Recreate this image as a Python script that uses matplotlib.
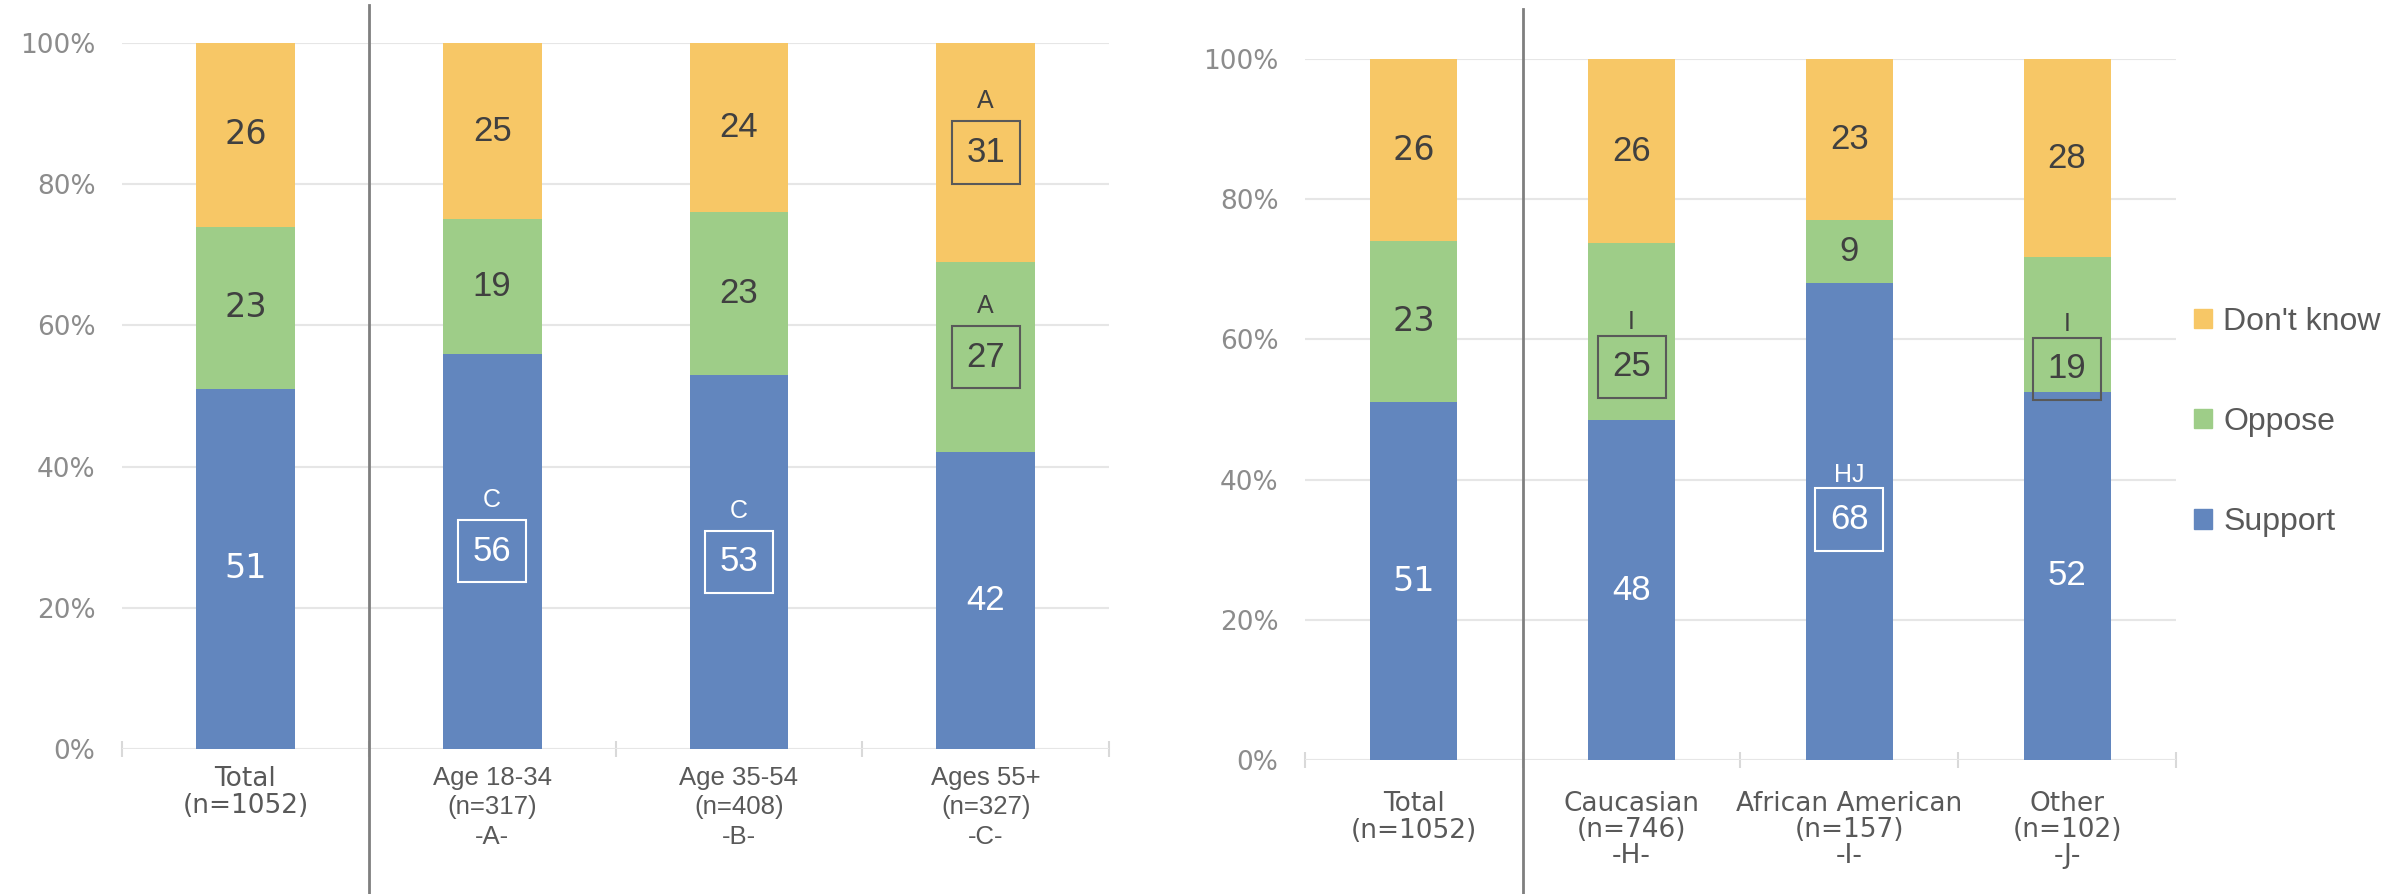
import numpy as np
import matplotlib.pyplot as plt
from matplotlib.patches import Patch

# left panel: by age
age_labels = ["Total\n(n=1052)", "Age 18-34\n(n=317)\n-A-", "Age 35-54\n(n=408)\n-B-", "Ages 55+\n(n=327)\n-C-"]
age_support = [51, 56, 53, 42]
age_oppose = [23, 19, 23, 27]
age_dont_know = [26, 25, 24, 31]
# significance letters, (category, series) -> letter
age_sig = {(1, 0): "C", (2, 0): "C", (3, 1): "A", (3, 2): "A"}

# right panel: by race
race_labels = ["Total\n(n=1052)", "Caucasian\n(n=746)\n-H-", "African American\n(n=157)\n-I-", "Other\n(n=102)\n-J-"]
race_support = [51, 48, 68, 52]
race_oppose = [23, 25, 9, 19]
race_dont_know = [26, 26, 23, 28]
race_sig = {(1, 1): "I", (2, 0): "HJ", (3, 1): "I"}

series_names = ["Support", "Oppose", "Don't know"]
colors = ["#6286BE", "#9ECD88", "#F7C766"]
text_colors = ["white", "#404040", "#404040"]

# label nudges (in % units) where the boxed labels sit off the segment centre
age_shift = {}
race_shift = {(1, 1): -5.0, (3, 1): -6.3, (2, 0): 0.3}

plt.rcParams["font.family"] = ["Liberation Sans", "DejaVu Sans"]

fig = plt.figure(figsize=(23.97, 8.94), dpi=100)
ax1 = fig.add_axes([0.0509, 0.1622, 0.4118, 0.7897])
ax2 = fig.add_axes([0.5444, 0.1499, 0.3634, 0.7841])


def draw_panel(ax, labels, support, oppose, dont_know, sig, shift, letter_gap,
               sep_top, sep_bot, xpad, wide_labels):
    x = np.arange(len(labels))
    vals = np.array([support, oppose, dont_know], dtype=float)
    pct = vals / vals.sum(axis=0) * 100
    bottom = np.zeros(len(labels))
    for i in range(3):
        ax.bar(x, pct[i], 0.4, bottom=bottom, color=colors[i], label=series_names[i], zorder=2)
        for j in range(len(labels)):
            yc = bottom[j] + pct[i][j] / 2 + shift.get((j, i), 0)
            fam = ["DejaVu Sans"] if j == 0 else ["Liberation Sans"]
            if (j, i) in sig:
                ec = "white" if i == 0 else "#595959"
                ax.text(x[j], yc, str(int(vals[i][j])), ha="center", va="center",
                        fontsize=25, color=text_colors[i], zorder=4,
                        bbox=dict(boxstyle="square,pad=0.42", fc="none", ec=ec, lw=1.5))
                ax.annotate(sig[(j, i)], (x[j], yc), xytext=(0, letter_gap),
                            textcoords="offset points", ha="center", va="center",
                            fontsize=18, color=text_colors[i], zorder=4)
            else:
                ax.text(x[j], yc, str(int(vals[i][j])), ha="center", va="center",
                        fontsize=24 if j == 0 else 25, color=text_colors[i], zorder=4,
                        family=fam)
        bottom += pct[i]

    ax.set_xlim(-0.5, len(labels) - 0.5)
    ax.set_ylim(0, 100)
    ax.set_yticks(np.arange(0, 101, 20))
    ax.set_yticklabels([f"{v}%" for v in range(0, 101, 20)])
    ax.yaxis.grid(True, color="#E6E6E6", lw=1.5, zorder=0)
    ax.set_axisbelow(True)
    for s in ax.spines.values():
        s.set_visible(False)
    ax.tick_params(axis="y", length=0, pad=19, labelsize=19, labelcolor="#8C8C8C")
    for t in ax.get_yticklabels():
        t.set_family("DejaVu Sans")
    ax.set_xticks(x)
    ax.set_xticklabels(labels)
    ax.tick_params(axis="x", which="major", length=0, pad=xpad, labelsize=18, labelcolor="#595959")
    for k, t in enumerate(ax.get_xticklabels()):
        if k == 0:
            t.set_family("DejaVu Sans")
            t.set_fontsize(19)
            t.set_linespacing(1.08)
        elif wide_labels:
            t.set_family("DejaVu Sans")
            t.set_fontsize(19)
            t.set_linespacing(1.02)
        else:
            t.set_fontsize(18.5)
            t.set_linespacing(1.3)
    ax.set_xticks(np.arange(-0.5, len(labels), 1), minor=True)
    ax.tick_params(axis="x", which="minor", length=12, direction="inout", color="#D9D9D9", width=1.5)

    # divider between the total and the sub-groups
    ax.plot([0.5, 0.5], [sep_top, sep_bot], transform=ax.get_xaxis_transform(),
            clip_on=False, color="#7F7F7F", lw=2, zorder=5)


draw_panel(ax1, age_labels, age_support, age_oppose, age_dont_know, age_sig, age_shift, 37,
           1.054, -0.205, 12, False)
draw_panel(ax2, race_labels, race_support, race_oppose, race_dont_know, race_sig, race_shift, 32,
           1.071, -0.191, 22, True)

handles = [Patch(color=colors[i], label=series_names[i]) for i in (2, 1, 0)]
fig.legend(handles=handles, loc="center left", bbox_to_anchor=(0.9155, 0.528), frameon=False,
           fontsize=23, labelcolor="#595959", handlelength=0.55, handleheight=0.55,
           handletextpad=0.35, labelspacing=2.2, borderpad=0, borderaxespad=0)

fig.savefig("out.png", dpi=100)
